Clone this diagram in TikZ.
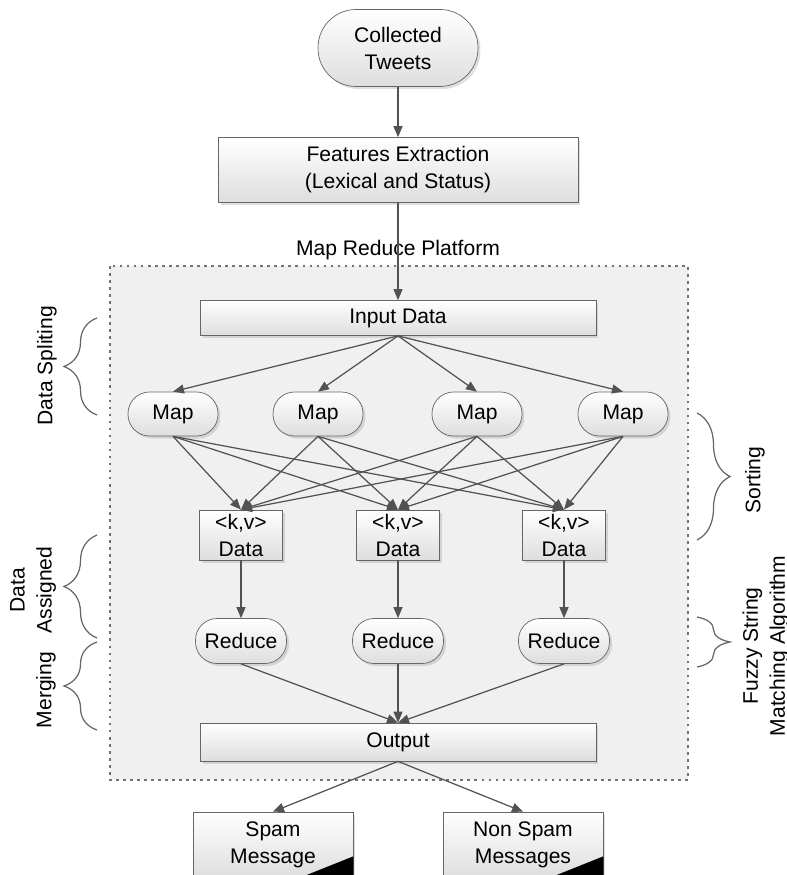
\documentclass[tikz,border=0pt]{standalone}
\usepackage{fontspec}
\setmainfont{Liberation Sans}
\usetikzlibrary{arrows.meta,shadows,decorations.pathreplacing}

\begin{document}
\begin{tikzpicture}[x=0.02cm, y=-0.02cm,
  every node/.style={font=\fontsize{12}{15.4}\selectfont},
  box/.style={draw=black!60, top color=white, bottom color=black!13, align=center, inner sep=0pt,
    drop shadow={shadow xshift=0.05cm, shadow yshift=-0.05cm, opacity=0.25}},
  pill/.style={box, rounded corners=0.43cm},
  link/.style={draw=black!68, line width=0.7pt, -{Triangle[length=2.2mm,width=1.8mm]}},
  brc/.style={draw=black!60, line width=0.7pt, decorate, decoration={brace, amplitude=0.66cm}}]
\useasboundingbox (0,0) rectangle (787,875);
\clip (0,0) rectangle (787,875);

% Map Reduce platform
\draw[draw=black!55, fill=black!6, line width=0.8pt, dash pattern=on 1.5pt off 2.5pt] (110,266) rectangle (688,780);
\node (mrp) at (398,250) {Map Reduce Platform};

% Top
\node[pill, minimum width=3.2cm, minimum height=1.54cm, rounded corners=0.76cm] (tweets) at (398,48) {Collected\\Tweets};
\node[box, minimum width=7.2cm, minimum height=1.3cm] (feat) at (398,170) {Features Extraction\\(Lexical and Status)};
\node[box, minimum width=7.92cm, minimum height=0.7cm] (input) at (398,318) {Input Data};

% Map
\node[pill, minimum width=1.8cm, minimum height=0.88cm] (map1) at (173,414) {Map};
\node[pill, minimum width=1.8cm, minimum height=0.88cm] (map2) at (318,414) {Map};
\node[pill, minimum width=1.8cm, minimum height=0.88cm] (map3) at (477,414) {Map};
\node[pill, minimum width=1.8cm, minimum height=0.88cm] (map4) at (623,414) {Map};

% <k,v> data
\node[box, minimum width=1.66cm, minimum height=1cm] (kv1) at (241,535) {<k,v>\\Data};
\node[box, minimum width=1.66cm, minimum height=1cm] (kv2) at (398,535) {<k,v>\\Data};
\node[box, minimum width=1.66cm, minimum height=1cm] (kv3) at (564,535) {<k,v>\\Data};

% Reduce
\node[pill, minimum width=1.82cm, minimum height=0.9cm] (red1) at (241,641) {Reduce};
\node[pill, minimum width=1.82cm, minimum height=0.9cm] (red2) at (398,641) {Reduce};
\node[pill, minimum width=1.82cm, minimum height=0.9cm] (red3) at (564,641) {Reduce};

% Output and results
\node[box, minimum width=7.92cm, minimum height=0.76cm] (out) at (398,742) {Output};
\node[box, minimum width=3.2cm, minimum height=1.32cm] (spam) at (273,845) {Spam\\Message};
\node[box, minimum width=3.2cm, minimum height=1.32cm] (nonspam) at (523,845) {Non Spam\\Messages};
\fill[black] ([xshift=-1.1cm]spam.south east) -- (spam.south east) -- ([yshift=0.44cm]spam.south east) -- cycle;
\fill[black] ([xshift=-1.1cm]nonspam.south east) -- (nonspam.south east) -- ([yshift=0.44cm]nonspam.south east) -- cycle;

% Arrows
\draw[link] (tweets) -- (feat);
\draw[link] (feat) -- (input);
\draw[link] (input.south) -- (map1.north);
\draw[link] (input.south) -- (map2.north);
\draw[link] (input.south) -- (map3.north);
\draw[link] (input.south) -- (map4.north);

\draw[link] (map1.south) -- (kv1.north);
\draw[link] (map1.south) -- (kv2.north);
\draw[link] (map1.south) -- (kv3.north);
\draw[link] (map2.south) -- (kv1.north);
\draw[link] (map2.south) -- (kv2.north);
\draw[link] (map2.south) -- (kv3.north);
\draw[link] (map3.south) -- (kv1.north);
\draw[link] (map3.south) -- (kv2.north);
\draw[link] (map3.south) -- (kv3.north);
\draw[link] (map4.south) -- (kv1.north);
\draw[link] (map4.south) -- (kv2.north);
\draw[link] (map4.south) -- (kv3.north);

\draw[link] (kv1) -- (red1);
\draw[link] (kv2) -- (red2);
\draw[link] (kv3) -- (red3);
\draw[link] (red1.south) -- (out.north);
\draw[link] (red2.south) -- (out.north);
\draw[link] (red3.south) -- (out.north);
\draw[link] (out.south) -- (spam.north);
\draw[link] (out.south) -- (nonspam.north);

% Braces
\draw[brc] (97,415) -- (97,318);
\node[rotate=90] (split) at (47,366) {Data Spliting};
\draw[brc] (97,638) -- (97,535);
\node[rotate=90, align=center] (assign) at (33,590) {Data\\Assigned};
\draw[brc] (97,730) -- (97,642);
\node[rotate=90] (merge) at (46,690) {Merging};
\draw[brc] (697,413) -- (697,540);
\node[rotate=90] (sort) at (755,480) {Sorting};
\draw[brc] (697,617) -- (697,667);
\node[rotate=90, align=center] (fuzzy) at (766,646) {Fuzzy String\\Matching Algorithm};
\end{tikzpicture}
\end{document}
